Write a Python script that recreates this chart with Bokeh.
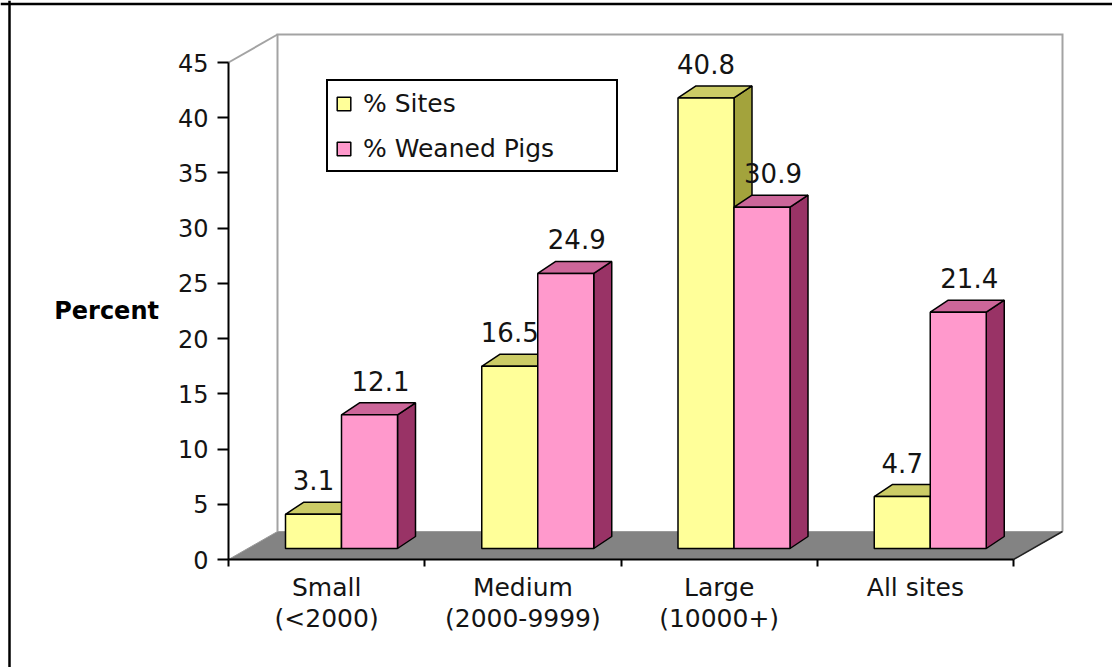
from bokeh.plotting import figure
from bokeh.models import (Range1d, LinearAxis, FixedTicker, Legend, LegendItem,
                          Span)
from bokeh.core.properties import value
from bokeh.embed import file_html
from bokeh.resources import INLINE

# ---- data -----------------------------------------------------------------
categories = ["Small", "Medium", "Large", "All sites"]
category_ranges = ["(<2000)", "(2000-9999)", "(10000+)", ""]
pct_sites = [3.1, 16.5, 40.8, 4.7]
pct_weaned_pigs = [12.1, 24.9, 30.9, 21.4]
series_names = ["% Sites", "% Weaned Pigs"]
y_ticks = [0, 5, 10, 15, 20, 25, 30, 35, 40, 45]
y_label = "Percent"

# ---- page / plot geometry (pixels) ----------------------------------------
W, H = 1112, 667
PX_LEFT, PX_RIGHT = 228, 1013      # front edge of the floor
PX_ZERO, PX_TOP = 559, 62          # value axis 0 .. max on the front plane
Y_MAX = y_ticks[-1]
n = len(categories)
sx = (PX_RIGHT - PX_LEFT) / n      # px per category
sy = (PX_ZERO - PX_TOP) / Y_MAX    # px per percent

# 3-D depth of the chart box and of the columns, converted to data units
DX, DY = 49 / sx, 28 / sy          # floor depth
SDX, SDY = 18 / sx, 12 / sy        # column depth
BAR_W = 56 / sx                    # width of one column face
GROUP_LEFT = 57 / sx               # first column face from category start
BAR_BASE = 11 / sy                 # columns stand part-way back on the floor
LABEL_GAP = 12 / sy                # value label above the column's top face

FONT = "DejaVu Sans"
TXT = "#141414"

p = figure(width=W, height=H, output_backend="svg", toolbar_location=None,
           x_range=Range1d(-PX_LEFT / sx, (W - PX_LEFT) / sx),
           y_range=Range1d(-(H - PX_ZERO) / sy, PX_ZERO / sy),
           x_axis_location=None, y_axis_location=None,
           min_border=0, min_border_left=0, min_border_right=0,
           min_border_top=0, min_border_bottom=0)
p.xgrid.visible = False
p.ygrid.visible = False
p.outline_line_color = None
p.background_fill_color = "white"
p.border_fill_color = "white"

# ---- outer page frame (top and left rules) --------------------------------
p.add_layout(Span(location=(PX_ZERO - 3.5) / sy, dimension="width",
                  line_color="black", line_width=2.5))
p.add_layout(Span(location=(9 - PX_LEFT) / sx, dimension="height",
                  line_color="black", line_width=2.5))

# ---- chart box: side wall edge, back wall, floor --------------------------
wall = "#a3a3a3"
p.line([0, DX], [Y_MAX, Y_MAX + DY], line_color=wall, line_width=2)
p.line([DX, DX, n + DX, n + DX], [DY, Y_MAX + DY, Y_MAX + DY, DY],
       line_color=wall, line_width=2, line_join="miter")
p.patch([0, DX, n + DX, n], [0, DY, DY, 0], fill_color="#838383",
        line_color="#9a9a9a", line_width=1)
p.line([n, n + DX], [0, DY], line_color="#222222", line_width=1.5)


# ---- columns ----------------------------------------------------------------
def column_shapes(values, shift):
    fx0, fx1, fy0, fy1 = [], [], [], []
    top_x, top_y, side_x, side_y = [], [], [], []
    for i, v in enumerate(values):
        x0 = i + GROUP_LEFT + shift * BAR_W
        x1 = x0 + BAR_W
        y0 = BAR_BASE
        y1 = BAR_BASE + v
        fx0.append(x0); fx1.append(x1); fy0.append(y0); fy1.append(y1)
        top_x.append([x0, x1, x1 + SDX, x0 + SDX])
        top_y.append([y1, y1, y1 + SDY, y1 + SDY])
        side_x.append([x1, x1 + SDX, x1 + SDX, x1])
        side_y.append([y0, y0 + SDY, y1 + SDY, y1])
    return fx0, fx1, fy0, fy1, top_x, top_y, side_x, side_y


# values, slot in group, front / top / side colours, label nudge (px)
series = [
    (pct_sites, 0, "#ffff99", "#cccc66", "#a3a33c", -9),
    (pct_weaned_pigs, 1, "#ff99cc", "#cc6699", "#993366", 2),
]
fronts = []
label_x, label_y, label_t = [], [], []
for vals, shift, c_front, c_top, c_side, nudge in series:
    fx0, fx1, fy0, fy1, tx, ty, sxs, sys_ = column_shapes(vals, shift)
    p.patches(sxs, sys_, fill_color=c_side, line_color="black", line_width=1.5)
    p.patches(tx, ty, fill_color=c_top, line_color="black", line_width=1.5)
    r = p.quad(left=fx0, right=fx1, bottom=fy0, top=fy1, fill_color=c_front,
               line_color="black", line_width=1.5)
    fronts.append(r)
    for a, b, t, v in zip(fx0, fx1, fy1, vals):
        label_x.append((a + b) / 2 + SDX / 2 + nudge / sx)
        label_y.append(t + SDY + LABEL_GAP)
        label_t.append(f"{v:.1f}")

p.text(x=label_x, y=label_y, text=label_t, text_font=value(FONT),
       text_font_size="26px", text_color=TXT, text_align="center",
       text_baseline="bottom")

# ---- axes ------------------------------------------------------------------
yaxis = LinearAxis(fixed_location=0, bounds=(0, Y_MAX),
                   ticker=FixedTicker(ticks=y_ticks),
                   axis_line_color="black", axis_line_width=2,
                   major_tick_line_color="black", major_tick_line_width=2,
                   major_tick_in=0, major_tick_out=11, minor_tick_out=0,
                   major_label_standoff=9,
                   major_label_text_font=FONT,
                   major_label_text_font_size="24px",
                   major_label_text_color=TXT,
                   axis_label=y_label, axis_label_orientation="horizontal",
                   axis_label_standoff=16,
                   axis_label_text_font=FONT,
                   axis_label_text_font_size="24px",
                   axis_label_text_font_style="bold",
                   axis_label_text_color="black")
p.add_layout(yaxis, "left")

centers = [i + 0.5 for i in range(n)]
xaxis = LinearAxis(fixed_location=0, bounds=(0, n),
                   ticker=FixedTicker(ticks=centers, minor_ticks=list(range(n + 1))),
                   axis_line_color="black", axis_line_width=2,
                   major_tick_in=0, major_tick_out=0,
                   minor_tick_line_color="black", minor_tick_line_width=2,
                   minor_tick_in=0, minor_tick_out=7,
                   major_label_standoff=6,
                   major_label_overrides={c: (a + "\n" + b if b else a)
                                          for c, a, b in zip(centers, categories,
                                                             category_ranges)},
                   major_label_text_font=FONT,
                   major_label_text_font_size="25px",
                   major_label_text_line_height=1.1,
                   major_label_text_color=TXT)
p.add_layout(xaxis, "below")

# ---- legend -----------------------------------------------------------------
legend = Legend(items=[LegendItem(label=series_names[0], renderers=[fronts[0]]),
                       LegendItem(label=series_names[1], renderers=[fronts[1]])],
                location=(326, H - 172),
                glyph_width=17, glyph_height=17,
                label_height=30, label_width=246, label_standoff=11,
                spacing=15, padding=7, margin=0,
                label_text_font=FONT, label_text_font_size="25px",
                label_text_color=TXT,
                border_line_color="black", border_line_width=2,
                border_line_alpha=1,
                background_fill_color="white", background_fill_alpha=1)
p.add_layout(legend)

open("out.html", "w").write(file_html(p, INLINE))
